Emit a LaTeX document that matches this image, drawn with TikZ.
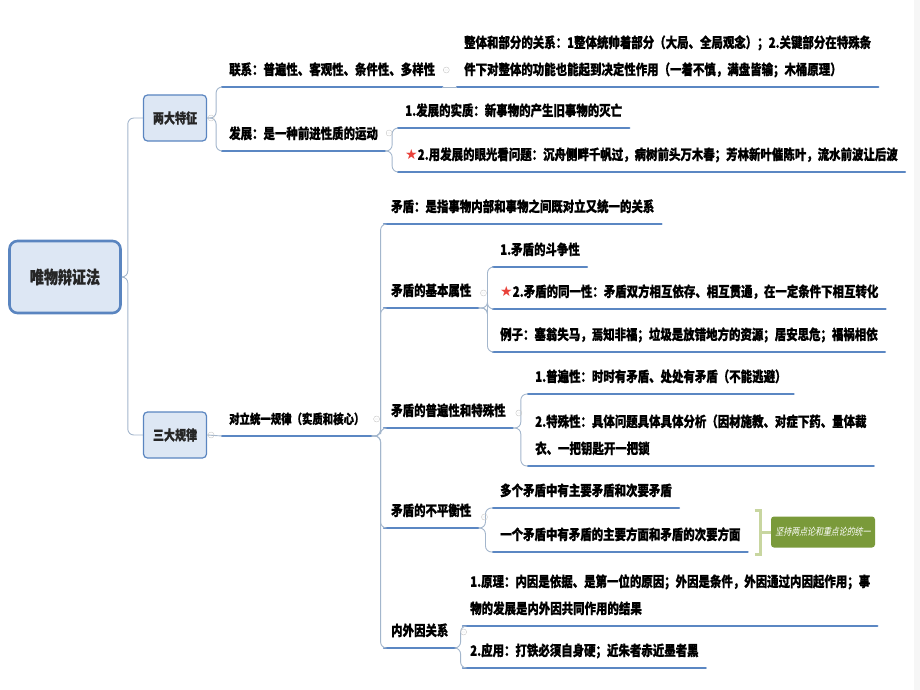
\documentclass[tikz,border=0pt]{standalone}
\usepackage{fontspec}
\usetikzlibrary{calc}
\newfontfamily\cjk{Noto Sans CJK SC}[FakeStretch=0.8,BoldFeatures={FakeBold=0.8}]
\newfontfamily\cjkslant{Noto Sans CJK SC}[FakeStretch=0.8,FakeSlant=0.2]
\newfontfamily\symfont{DejaVu Sans}
\definecolor{boxfill}{HTML}{DDE7F4}
\definecolor{boxline}{HTML}{5A85C0}
\definecolor{ulinec}{HTML}{5B87C3}
\definecolor{branchc}{HTML}{A3B6CC}
\definecolor{sumgreen}{HTML}{7A9A3A}
\definecolor{bracketc}{HTML}{C8D6A0}
\definecolor{starred}{HTML}{E8413A}
\newcommand{\redstar}{{\color{starred}\symfont\fontsize{14}{14}\selectfont ★}}

\begin{document}
\begin{tikzpicture}[x=1pt,y=-1pt,
  root node/.style={draw=boxline,line width=2.6pt,fill=boxfill,rounded corners=8pt,minimum width=111pt,minimum height=72pt,text=black!85,font=\cjk\bfseries\fontsize{17.5}{20}\selectfont},
  main node/.style={draw=boxline,line width=1.2pt,fill=boxfill,rounded corners=4pt,minimum width=63pt,minimum height=46pt,text=black!85,font=\cjk\bfseries\fontsize{13.8}{16}\selectfont},
  topic/.style={anchor=south west,inner xsep=7pt,inner ysep=10pt,text depth=2pt,align=left,font=\cjk\bfseries\fontsize{14.3}{27}\selectfont},
  small topic/.style={topic,font=\cjk\bfseries\fontsize{13}{20}\selectfont},
  summary/.style={fill=sumgreen,rounded corners=3pt,minimum width=104pt,minimum height=31pt,text=white,font=\cjkslant\fontsize{9.9}{11}\selectfont},
  uline/.style={draw=ulinec,line width=2.4pt,line cap=round},
  branch/.style={draw=branchc,line width=0.9pt,rounded corners=6pt},
  elbow/.style={to path={-- ++(#1,0) |- (\tikztotarget)}},
  elbow/.default=8,
  bracket/.style={draw=bracketc,line width=3pt},
  fold/.style={draw=gray!45,line width=0.4pt}]
  \useasboundingbox (0,0) rectangle (920,690);
  \fill[gray!7] (914,0) rectangle (920,690);

  % main topics
  \node[root node] (root) at (65,277) {唯物辩证法};
  \node[main node] (tezheng) at (175,118) {两大特征};
  \node[main node] (guilu) at (175,435) {三大规律};

  % two features
  \node[topic] (lianxi) at (222,87) {联系：普遍性、客观性、条件性、多样性};
  \node[topic] (zhengti) at (457,87) {整体和部分的关系：1整体统帅着部分（大局、全局观念）；2.关键部分在特殊条\\件下对整体的功能也能起到决定性作用（一着不慎，满盘皆输；木桶原理）};
  \node[topic] (fazhan) at (222,151) {发展：是一种前进性质的运动};
  \node[topic] (shizhi) at (398,128) {1.发展的实质：新事物的产生旧事物的灭亡};
  \node[topic] (yanguang) at (398,172) {\redstar 2.用发展的眼光看问题：沉舟侧畔千帆过，病树前头万木春；芳林新叶催陈叶，流水前波让后波};

  % three laws
  \node[small topic] (duili) at (222,436) {对立统一规律（实质和核心）};
  \node[topic] (maodun) at (384,224) {矛盾：是指事物内部和事物之间既对立又统一的关系};
  \node[topic] (shuxing) at (384,308) {矛盾的基本属性};
  \node[topic] (douzheng) at (493,267) {1.矛盾的斗争性};
  \node[topic] (tongyi) at (493,309) {\redstar 2.矛盾的同一性：矛盾双方相互依存、相互贯通，在一定条件下相互转化};
  \node[topic] (lizi) at (493,352) {例子：塞翁失马，焉知非福；垃圾是放错地方的资源；居安思危；福祸相依};
  \node[topic] (pubian) at (384,428) {矛盾的普遍性和特殊性};
  \node[topic] (pubianxing) at (528,394) {1.普遍性：时时有矛盾、处处有矛盾（不能逃避）};
  \node[topic] (teshu) at (528,466) {2.特殊性：具体问题具体具体分析（因材施教、对症下药、量体裁\\衣、一把钥匙开一把锁};
  \node[topic] (pingheng) at (384,528) {矛盾的不平衡性};
  \node[topic] (duoge) at (493,508) {多个矛盾中有主要矛盾和次要矛盾};
  \node[topic] (yige) at (493,552) {一个矛盾中有矛盾的主要方面和矛盾的次要方面};
  \node[topic] (neiwai) at (384,648) {内外因关系};
  \node[topic] (yuanli) at (463,626) {1.原理：内因是依据、是第一位的原因；外因是条件，外因通过内因起作用；事\\物的发展是内外因共同作用的结果};
  \node[topic] (yingyong) at (463,668) {2.应用：打铁必须自身硬；近朱者赤近墨者黑};
  \node[summary] (summary) at (823,532) {坚持两点论和重点论的统一};

  \foreach \n in {lianxi,zhengti,fazhan,shizhi,yanguang,duili,maodun,shuxing,douzheng,tongyi,lizi,pubian,pubianxing,teshu,pingheng,duoge,yige,neiwai,yuanli,yingyong}
    \draw[uline] (\n.south west) -- (\n.south east);

  \path[branch]
    (root.east) edge[elbow=6] (tezheng.west)
    (root.east) edge[elbow=6] (guilu.west)
    (tezheng.east) edge[elbow=9] (lianxi.south west)
    (tezheng.east) edge[elbow=9] (fazhan.south west)
    (lianxi.south east) edge (zhengti.south west)
    (fazhan.south east) edge[elbow=7] (shizhi.south west)
    (fazhan.south east) edge[elbow=7] (yanguang.south west)
    (guilu.east) edge (duili.south west)
    (duili.south east) edge[elbow=9] (maodun.south west)
    (duili.south east) edge[elbow=9] (shuxing.south west)
    (duili.south east) edge[elbow=9] (pubian.south west)
    (duili.south east) edge[elbow=9] (pingheng.south west)
    (duili.south east) edge[elbow=9] (neiwai.south west)
    (shuxing.south east) edge[elbow=9] (douzheng.south west)
    (shuxing.south east) edge[elbow=9] (tongyi.south west)
    (shuxing.south east) edge[elbow=9] (lizi.south west)
    (pubian.south east) edge[elbow=8] (pubianxing.south west)
    (pubian.south east) edge[elbow=8] (teshu.south west)
    (pingheng.south east) edge[elbow=7] (duoge.south west)
    (pingheng.south east) edge[elbow=7] (yige.south west)
    (neiwai.south east) edge[elbow=5] (yuanli.south west)
    (neiwai.south east) edge[elbow=5] (yingyong.south west);

  % summary bracket
  \draw[bracket] ([shift={(7,-42)}]yige.south east) -- ++(6,0) |- ([shift={(7,2)}]yige.south east);
  \draw[bracket] ([shift={(13,-20)}]yige.south east) -- (summary.west);

  % fold markers
  \foreach \n in {tezheng,guilu}
    \draw[fold] ([xshift=4pt]\n.east) circle[radius=3pt] +(-1.5pt,0) -- +(1.5pt,0);
  \foreach \n/\dx/\dy in {lianxi/4/17,fazhan/4/18,duili/5/17,shuxing/5/15,pubian/6/15,pingheng/6/11,neiwai/8/16}
    \draw[fold] ([shift={(\dx,-\dy)}]\n.south east) circle[radius=3pt] +(-1.5pt,0) -- +(1.5pt,0);
\end{tikzpicture}
\end{document}
